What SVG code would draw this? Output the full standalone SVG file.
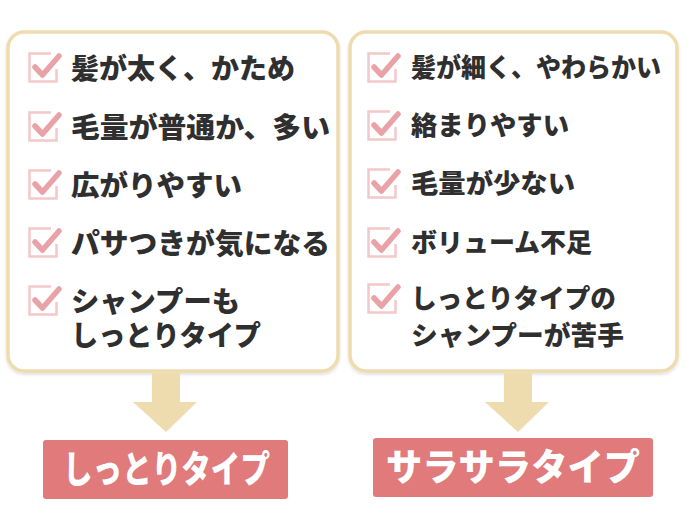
<svg xmlns="http://www.w3.org/2000/svg" width="690" height="518" viewBox="0 0 690 518">
<style>
.card{fill:#fff;stroke:#eedcae;stroke-width:3.5}
.t{font-family:"Noto Sans CJK JP","Noto Sans",sans-serif;font-weight:900;fill:#2f2f2f}
.l{font-size:28px}
.r{font-size:26px}
.lab{font-family:"Noto Sans CJK JP","Noto Sans",sans-serif;font-weight:900;fill:#fff;font-size:37px}
.arrow{fill:#eedcae}
.labbox{fill:#e07a7b}
</style>
<defs>
<filter id="sh" x="-5%" y="-5%" width="110%" height="110%">
<feDropShadow dx="0" dy="2" stdDeviation="1.5" flood-color="#000" flood-opacity="0.12"/>
</filter>
<g id="chk">
<path d="M23,1.5 H1.5 V29.5 H28.5 V17" fill="none" stroke="#f3c8ca" stroke-width="2.5"/>
<path d="M7,15 L14.5,23 L31,4" fill="none" stroke="#e9a2a7" stroke-width="5.5" stroke-linecap="round" stroke-linejoin="round"/>
</g>
</defs>
<g id="left-card">
<rect class="card" x="8" y="32" width="330" height="339" rx="16" filter="url(#sh)"/>
<use href="#chk" x="28" y="52"/>
<text class="t l" x="71" y="79" textLength="224" lengthAdjust="spacingAndGlyphs">髪が太く、かため</text>
<use href="#chk" x="28" y="111"/>
<text class="t l" x="71" y="138" textLength="259" lengthAdjust="spacingAndGlyphs">毛量が普通か、多い</text>
<use href="#chk" x="28" y="169"/>
<text class="t l" x="71" y="196" textLength="171" lengthAdjust="spacingAndGlyphs">広がりやすい</text>
<use href="#chk" x="28" y="227"/>
<text class="t l" x="71" y="254" textLength="259" lengthAdjust="spacingAndGlyphs">パサつきが気になる</text>
<use href="#chk" x="28" y="285"/>
<text class="t l" x="71" y="312" textLength="169" lengthAdjust="spacingAndGlyphs">シャンプーも</text>
<text class="t l" x="71" y="346" textLength="190" lengthAdjust="spacingAndGlyphs">しっとりタイプ</text>
</g>
<g id="right-card">
<rect class="card" x="350" y="32" width="327" height="339" rx="16" filter="url(#sh)"/>
<use href="#chk" x="367" y="52"/>
<text class="t r" x="411" y="77" textLength="250" lengthAdjust="spacingAndGlyphs">髪が細く、やわらかい</text>
<use href="#chk" x="367" y="110"/>
<text class="t r" x="411" y="135" textLength="158" lengthAdjust="spacingAndGlyphs">絡まりやすい</text>
<use href="#chk" x="367" y="168"/>
<text class="t r" x="411" y="193" textLength="164" lengthAdjust="spacingAndGlyphs">毛量が少ない</text>
<use href="#chk" x="367" y="227"/>
<text class="t r" x="411" y="252" textLength="181" lengthAdjust="spacingAndGlyphs">ボリューム不足</text>
<use href="#chk" x="367" y="283"/>
<text class="t r" x="411" y="308" textLength="205" lengthAdjust="spacingAndGlyphs">しっとりタイプの</text>
<text class="t r" x="411" y="345" textLength="213" lengthAdjust="spacingAndGlyphs">シャンプーが苦手</text>
</g>
<g id="connectors">
<path class="arrow" d="M152,373 H180 V402 H197 L166,432 L133,402 H152 Z"/>
<path class="arrow" d="M504,373 H532 V402 H549 L518,432 L485,402 H504 Z"/>
</g>
<g id="moist">
<rect class="labbox" x="43" y="440" width="245" height="59" rx="3"/>
<text class="lab" x="63" y="483" textLength="207" lengthAdjust="spacingAndGlyphs">しっとりタイプ</text>
</g>
<g id="smooth">
<rect class="labbox" x="373" y="438" width="280" height="59" rx="3"/>
<text class="lab" x="386" y="481" textLength="254" lengthAdjust="spacingAndGlyphs">サラサラタイプ</text>
</g>
</svg>
